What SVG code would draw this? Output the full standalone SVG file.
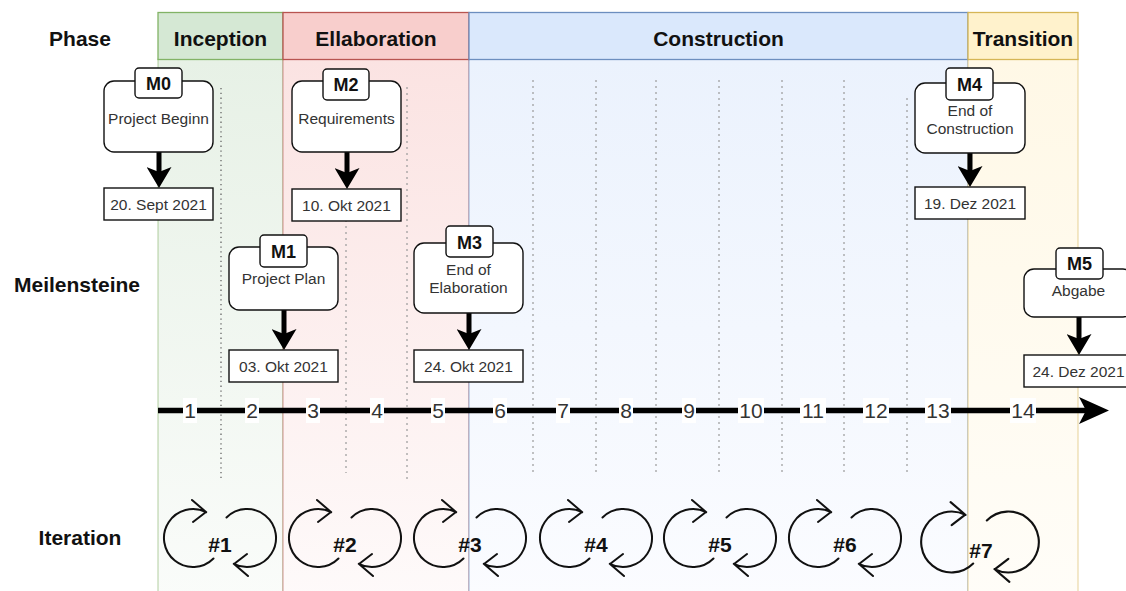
<svg xmlns="http://www.w3.org/2000/svg" width="1126" height="591" viewBox="0 0 1126 591">
<style>
text{font-family:"Liberation Sans",Arial,Helvetica,sans-serif}
.lbl{font-size:21px;font-weight:bold;fill:#111;text-anchor:middle}
.ms{font-size:15.5px;fill:#333;text-anchor:middle}
.tab{font-size:18px;font-weight:bold;fill:#111;text-anchor:middle}
.num{font-size:21px;fill:#333;text-anchor:middle}
.it{font-size:21px;font-weight:bold;fill:#111;text-anchor:middle}
.box{fill:#fff;stroke:#111;stroke-width:1.4}
.vd{stroke:#9a9a9a;stroke-width:1.2;stroke-dasharray:2 4;fill:none}
.vd0{stroke:#666;stroke-width:1.3;stroke-dasharray:1.3 3.5;fill:none}
.arr{stroke:#000;stroke-width:5;fill:none}
</style>
<defs>
<linearGradient id="gG" x1="0" y1="0" x2="0" y2="1"><stop offset="0" stop-color="#e7f1e6"/><stop offset="1" stop-color="#fafcfa"/></linearGradient>
<linearGradient id="gR" x1="0" y1="0" x2="0" y2="1"><stop offset="0" stop-color="#fbe3e2"/><stop offset="1" stop-color="#fefafa"/></linearGradient>
<linearGradient id="gB" x1="0" y1="0" x2="0" y2="1"><stop offset="0" stop-color="#ebf2fd"/><stop offset="1" stop-color="#fbfcff"/></linearGradient>
<linearGradient id="gY" x1="0" y1="0" x2="0" y2="1"><stop offset="0" stop-color="#fff8e6"/><stop offset="1" stop-color="#fffdf8"/></linearGradient>
<marker id="ah" viewBox="0 0 21 25" refX="11" refY="12.5" markerWidth="21" markerHeight="25" markerUnits="userSpaceOnUse" orient="auto"><path d="M0,0 L21,12.5 L0,25 L5,12.5 Z" fill="#000"/></marker>
<marker id="ah2" viewBox="0 0 30 27" refX="18" refY="13.5" markerWidth="30" markerHeight="27" markerUnits="userSpaceOnUse" orient="auto"><path d="M0,0 L30,13.5 L0,27 L7,13.5 Z" fill="#000"/></marker>
<g id="cyc"><path d="M -6.5 20.5 A 29 29 0 1 1 -13.8 -25.8 M -28 -38 L -14 -26 L -27 -16 M 6.5 -20.5 A 29 29 0 1 1 13.8 25.8 M 28 38 L 14 26 L 27 16" fill="none" stroke="#111" stroke-width="2" stroke-linecap="round" stroke-linejoin="round"/></g>
</defs>

<g id="phase-bodies">
<rect x="158" y="59" width="125" height="540" fill="url(#gG)" stroke="#82b366" stroke-opacity="0.6"/>
<rect x="283" y="59" width="186" height="540" fill="url(#gR)" stroke="#b85450" stroke-opacity="0.6"/>
<rect x="469" y="59" width="499" height="540" fill="url(#gB)" stroke="#6c8ebf" stroke-opacity="0.7"/>
<rect x="968" y="59" width="110" height="540" fill="url(#gY)" stroke="#d6b656" stroke-opacity="0.6"/>
</g>

<g id="phase-headers">
<g id="inception"><rect x="158" y="12.5" width="125" height="47" fill="#d5e8d4" stroke="#82b366" stroke-width="1.3"/><text class="lbl" x="220.5" y="45.5">Inception</text></g>
<g id="ellaboration"><rect x="283" y="12.5" width="186" height="47" fill="#f8cecc" stroke="#b85450" stroke-width="1.3"/><text class="lbl" x="376" y="45.5">Ellaboration</text></g>
<g id="construction"><rect x="469" y="12.5" width="499" height="47" fill="#dae8fc" stroke="#6c8ebf" stroke-width="1.3"/><text class="lbl" x="718.5" y="45.5">Construction</text></g>
<g id="transition"><rect x="968" y="12.5" width="110" height="47" fill="#fff2cc" stroke="#d6b656" stroke-width="1.3"/><text class="lbl" x="1023" y="45.5">Transition</text></g>
</g>

<g id="row-labels">
<text class="lbl" x="80" y="45.5">Phase</text>
<text class="lbl" x="77" y="292">Meilensteine</text>
<text class="lbl" x="80" y="545">Iteration</text>
</g>

<g id="separators">
<line class="vd0" x1="221" y1="88" x2="221" y2="481"/>
<line class="vd" x1="346" y1="88" x2="346" y2="473"/>
<line class="vd" x1="407" y1="87" x2="407" y2="479"/>
<line class="vd" x1="533" y1="80" x2="533" y2="473"/>
<line class="vd" x1="596" y1="80" x2="596" y2="473"/>
<line class="vd" x1="656" y1="80" x2="656" y2="473"/>
<line class="vd" x1="719" y1="80" x2="719" y2="473"/>
<line class="vd" x1="782" y1="80" x2="782" y2="473"/>
<line class="vd" x1="844" y1="80" x2="844" y2="473"/>
<line class="vd" x1="907" y1="98" x2="907" y2="473"/>
</g>

<g id="connectors">
<line x1="158" y1="410.5" x2="1097" y2="410.5" stroke="#000" stroke-width="5.5" marker-end="url(#ah2)"/>
<path class="arr" d="M159 152 V178" marker-end="url(#ah)"/>
<path class="arr" d="M347 152 V179" marker-end="url(#ah)"/>
<path class="arr" d="M284 310 V340" marker-end="url(#ah)"/>
<path class="arr" d="M469 313 V340" marker-end="url(#ah)"/>
<path class="arr" d="M970 153 V177" marker-end="url(#ah)"/>
<path class="arr" d="M1079 317 V345" marker-end="url(#ah)"/>
</g>

<g id="timeline-numbers">
<rect x="183" y="398" width="14" height="25" fill="#fff"/><text class="num" x="190" y="418">1</text>
<rect x="245" y="398" width="14" height="25" fill="#fff"/><text class="num" x="252" y="418">2</text>
<rect x="306" y="398" width="14" height="25" fill="#fff"/><text class="num" x="313" y="418">3</text>
<rect x="370" y="398" width="14" height="25" fill="#fff"/><text class="num" x="377" y="418">4</text>
<rect x="431" y="398" width="14" height="25" fill="#fff"/><text class="num" x="438" y="418">5</text>
<rect x="493" y="398" width="14" height="25" fill="#fff"/><text class="num" x="500" y="418">6</text>
<rect x="556" y="398" width="14" height="25" fill="#fff"/><text class="num" x="563" y="418">7</text>
<rect x="619" y="398" width="14" height="25" fill="#fff"/><text class="num" x="626" y="418">8</text>
<rect x="682" y="398" width="14" height="25" fill="#fff"/><text class="num" x="689" y="418">9</text>
<rect x="738" y="398" width="26" height="25" fill="#fff"/><text class="num" x="751" y="418">10</text>
<rect x="800" y="398" width="26" height="25" fill="#fff"/><text class="num" x="813" y="418">11</text>
<rect x="863" y="398" width="26" height="25" fill="#fff"/><text class="num" x="876" y="418">12</text>
<rect x="925" y="398" width="26" height="25" fill="#fff"/><text class="num" x="938" y="418">13</text>
<rect x="1010" y="398" width="26" height="25" fill="#fff"/><text class="num" x="1023" y="418">14</text>
</g>

<g id="M0">
<rect class="box" x="104" y="81" width="109" height="71" rx="10"/>
<rect class="box" x="135" y="68" width="47" height="30" rx="4"/>
<text class="tab" x="158.5" y="89.5">M0</text>
<text class="ms" x="158.5" y="123.5">Project Beginn</text>
</g>
<g id="M0-date"><rect class="box" x="104" y="188" width="109" height="32"/><text class="ms" x="158.5" y="209.5">20. Sept 2021</text></g>

<g id="M2">
<rect class="box" x="292" y="81" width="109" height="71" rx="10"/>
<rect class="box" x="323" y="69" width="46" height="31" rx="4"/>
<text class="tab" x="346" y="91">M2</text>
<text class="ms" x="346.5" y="123.5">Requirements</text>
</g>
<g id="M2-date"><rect class="box" x="292" y="189" width="109" height="32"/><text class="ms" x="346.5" y="210.5">10. Okt 2021</text></g>

<g id="M1">
<rect class="box" x="229" y="247" width="109" height="63" rx="10"/>
<rect class="box" x="260" y="235" width="47" height="32" rx="4"/>
<text class="tab" x="283.5" y="257.5">M1</text>
<text class="ms" x="283.5" y="284">Project Plan</text>
</g>
<g id="M1-date"><rect class="box" x="229" y="350" width="109" height="32"/><text class="ms" x="283.5" y="371.5">03. Okt 2021</text></g>

<g id="M3">
<rect class="box" x="414" y="243" width="109" height="70" rx="10"/>
<rect class="box" x="446" y="226" width="47" height="31" rx="4"/>
<text class="tab" x="469.5" y="248.5">M3</text>
<text class="ms" x="468.5" y="275">End of</text>
<text class="ms" x="468.5" y="293">Elaboration</text>
</g>
<g id="M3-date"><rect class="box" x="414" y="350" width="109" height="32"/><text class="ms" x="468.5" y="371.5">24. Okt 2021</text></g>

<g id="M4">
<rect class="box" x="915" y="83" width="110" height="70" rx="10"/>
<rect class="box" x="946" y="68" width="47" height="32" rx="4"/>
<text class="tab" x="969.5" y="90.5">M4</text>
<text class="ms" x="970" y="115.5">End of</text>
<text class="ms" x="970" y="133.5">Construction</text>
</g>
<g id="M4-date"><rect class="box" x="915" y="187" width="110" height="32"/><text class="ms" x="970" y="208.5">19. Dez 2021</text></g>

<g id="M5">
<rect class="box" x="1024" y="269" width="109" height="48" rx="10"/>
<rect class="box" x="1056" y="248" width="47" height="31" rx="4"/>
<text class="tab" x="1079.5" y="270">M5</text>
<text class="ms" x="1078.5" y="296">Abgabe</text>
</g>
<g id="M5-date"><rect class="box" x="1024" y="355" width="109" height="32"/><text class="ms" x="1078.5" y="376.5">24. Dez 2021</text></g>

<g id="iter1"><use href="#cyc" transform="translate(220,538)"/><text class="it" x="220" y="552">#1</text></g>
<g id="iter2"><use href="#cyc" transform="translate(345,538)"/><text class="it" x="345" y="552">#2</text></g>
<g id="iter3"><use href="#cyc" transform="translate(470,538)"/><text class="it" x="470" y="552">#3</text></g>
<g id="iter4"><use href="#cyc" transform="translate(596,538)"/><text class="it" x="596" y="552">#4</text></g>
<g id="iter5"><use href="#cyc" transform="translate(720,538)"/><text class="it" x="720" y="552">#5</text></g>
<g id="iter6"><use href="#cyc" transform="translate(845,538)"/><text class="it" x="845" y="552">#6</text></g>
<g id="iter7"><use href="#cyc" transform="translate(980,542) scale(1.05)"/><text class="it" x="981" y="558">#7</text></g>
</svg>
